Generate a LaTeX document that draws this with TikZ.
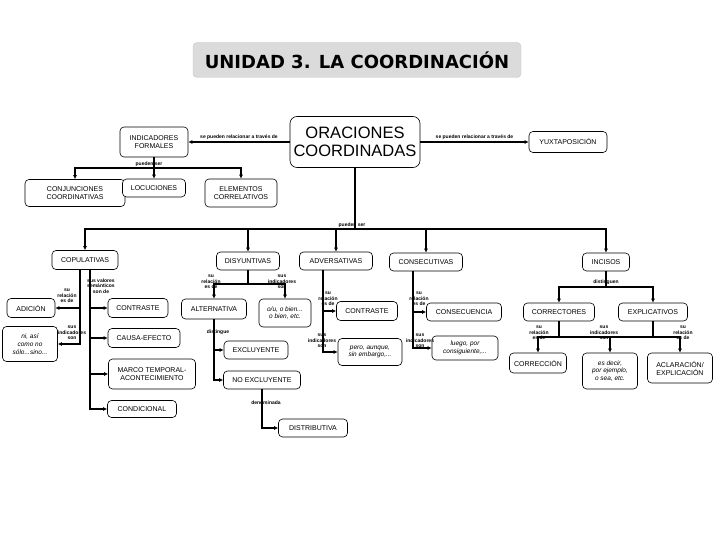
\documentclass[tikz,border=0pt]{standalone}
\usepackage{fontspec}
\setmainfont{Liberation Sans}
\newfontfamily\titlefont{DejaVu Sans}
\usetikzlibrary{arrows.meta, positioning}
\tikzset{
  caja/.style={draw, rounded corners=4pt, line width=0.6pt, align=center, inner sep=1pt, fill=white, font=\fontsize{7}{8}\selectfont},
  ejemplo/.style={caja, font=\fontsize{6.5}{7.8}\selectfont\itshape},
  etiq/.style={font=\fontsize{5}{5.6}\selectfont\bfseries, align=center, inner sep=0.3pt},
  arr/.style={-{Latex[length=4pt,width=4pt]}, line width=1.5pt},
  linea/.style={line width=1.5pt},
}

\begin{document}
\begin{tikzpicture}[x=1pt, y=-1pt]
    \useasboundingbox (0,0) rectangle (720,540);

    % título
    \node[fill=black!14, draw=black!22, rounded corners=4pt, minimum width=328pt, minimum height=35pt,
          font=\titlefont\bfseries\fontsize{18}{20}\selectfont] (titulo) at (357,60) {UNIDAD 3. LA COORDINACIÓN};

    % nivel superior
    \node[caja, rounded corners=7pt, minimum width=130pt, minimum height=51pt, font=\fontsize{16.5}{18}\selectfont] (oracio) at (355,142) {ORACIONES\\COORDINADAS};
    \node[caja, minimum width=68pt, minimum height=30pt] (indic) at (154,142) {INDICADORES\\FORMALES};
    \node[caja, minimum width=78pt, minimum height=21pt] (yuxta) at (568,142) {YUXTAPOSICIÓN};

    \draw[arr] (oracio) -- node[etiq, above=1pt] (l1) {se pueden relacionar a través de} (indic);
    \draw[arr] (oracio) -- node[etiq, above=1pt] (l2) {se pueden relacionar a través de} (yuxta);

    % indicadores formales
    \node[caja, minimum width=100pt, minimum height=27pt] (conj) at (75,193) {CONJUNCIONES\\COORDINATIVAS};
    \node[caja, minimum width=63pt, minimum height=18pt] (locu) at (154,188) {LOCUCIONES};
    \node[caja, minimum width=72pt, minimum height=28pt] (correl) at (241,193) {ELEMENTOS\\CORRELATIVOS};

    \coordinate (b1) at (154,168);
    \draw[linea] (indic) -- (b1);
    \node[etiq] (l3) at (149,164) {pueden ser};
    \draw[arr] (b1) -| (conj);
    \draw[arr] (b1) -- (locu);
    \draw[arr] (b1) -| (correl);

    % clases de oraciones
    \node[caja, minimum width=66pt, minimum height=19pt] (copul) at (85,260) {COPULATIVAS};
    \node[caja, minimum width=63pt, minimum height=18pt] (disy) at (248,261) {DISYUNTIVAS};
    \node[caja, minimum width=73pt, minimum height=18pt] (adver) at (336,261) {ADVERSATIVAS};
    \node[caja, minimum width=73pt, minimum height=18pt] (conse) at (426,262) {CONSECUTIVAS};
    \node[caja, minimum width=47pt, minimum height=18pt] (incis) at (606,262) {INCISOS};

    \coordinate (b2) at (355,229);
    \draw[linea] (oracio) -- (b2);
    \node[etiq] (l4) at (352,225) {pueden ser};
    \foreach \n in {copul, disy, adver, conse, incis}
        \draw[arr] (b2) -| (\n);

    % copulativas
    \node[caja, minimum width=48pt, minimum height=19pt] (adic) at (31,308) {ADICIÓN};
    \node[ejemplo, minimum width=55pt, minimum height=35pt] (nisi) at (30,344) {ni, así\\como no\\sólo...sino...};
    \node[caja, minimum width=60pt, minimum height=19pt] (contA) at (138,308) {CONTRASTE};
    \node[caja, minimum width=72pt, minimum height=19pt] (causa) at (144,338) {CAUSA-EFECTO};
    \node[caja, minimum width=87pt, minimum height=30pt] (marco) at (152,374) {MARCO TEMPORAL-\\ACONTECIMIENTO};
    \node[caja, minimum width=69pt, minimum height=17pt] (condi) at (142,409) {CONDICIONAL};

    \draw[arr] ([xshift=-5pt]copul.south) |- (adic);
    \draw[arr] ([xshift=-5pt]copul.south) |- (nisi);
    \foreach \n in {contA, causa, marco, condi}
        \draw[arr] ([xshift=5pt]copul.south) |- (\n);
    \node[etiq] (l5) at (67,296) {su\\relación\\es de};
    \node[etiq] (l6) at (72,333) {sus\\indicadores\\son};
    \node[etiq] (l7) at (101,286) {sus valores\\semánticos\\son de};

    % disyuntivas
    \node[caja, minimum width=65pt, minimum height=20pt] (alter) at (214,309) {ALTERNATIVA};
    \node[ejemplo, minimum width=52pt, minimum height=28pt] (obien) at (285,313) {o/u, o bien...\\o bien, etc.};
    \node[caja, minimum width=64pt, minimum height=18pt] (exclu) at (256,350) {EXCLUYENTE};
    \node[caja, minimum width=77pt, minimum height=18pt] (noexc) at (262,380) {NO EXCLUYENTE};
    \node[caja, minimum width=69pt, minimum height=18pt] (distr) at (313,428) {DISTRIBUTIVA};

    \coordinate (b3) at (248,284);
    \draw[linea] (disy) -- (b3);
    \draw[arr] (b3) -| (alter);
    \draw[arr] (b3) -| (obien);
    \node[etiq] (l8) at (211,282) {su\\relación\\es de};
    \node[etiq] (l9) at (282,282) {sus\\indicadores\\son};
    \draw[arr] (alter.south) |- (exclu);
    \draw[arr] (alter.south) |- (noexc);
    \node[etiq] (l10) at (218,332) {distingue};
    \draw[arr] (noexc.south) |- (distr);
    \node[etiq] (l11) at (266,403) {denominada};

    % adversativas
    \node[caja, minimum width=61pt, minimum height=19pt] (contB) at (367,311) {CONTRASTE};
    \node[ejemplo, minimum width=64pt, minimum height=27pt] (pero) at (370,352) {pero, aunque,\\sin embargo,...};
    \draw[arr] ([xshift=-13pt]adver.south) |- (contB);
    \draw[arr] ([xshift=-13pt]adver.south) |- (pero);
    \node[etiq] (l12) at (328,299) {su\\relación\\es de};
    \node[etiq] (l13) at (322,341) {sus\\indicadores\\son};

    % consecutivas
    \node[caja, minimum width=75pt, minimum height=18pt] (consec) at (464,312) {CONSECUENCIA};
    \node[ejemplo, minimum width=66pt, minimum height=24pt] (luego) at (465,348) {luego, por\\consiguiente,...};
    \draw[arr] ([xshift=-13pt]conse.south) |- (consec);
    \draw[arr] ([xshift=-13pt]conse.south) |- (luego);
    \node[etiq] (l14) at (419,299) {su\\relación\\es de};
    \node[etiq] (l15) at (420,341) {sus\\indicadores\\son};

    % incisos
    \node[caja, minimum width=71pt, minimum height=18pt] (correc) at (559,312) {CORRECTORES};
    \node[caja, minimum width=69pt, minimum height=18pt] (expli) at (653,312) {EXPLICATIVOS};
    \coordinate (b4) at (606,287);
    \draw[linea] (incis) -- (b4);
    \node[etiq] (l16) at (606,282) {distinguen};
    \draw[arr] (b4) -| (correc);
    \draw[arr] (b4) -| (expli);

    \node[caja, minimum width=57pt, minimum height=20pt] (correcc) at (538,363) {CORRECCIÓN};
    \node[ejemplo, minimum width=55pt, minimum height=36pt] (esdec) at (610,371) {es decir,\\por ejemplo,\\o sea, etc.};
    \node[caja, minimum width=65pt, minimum height=30pt] (aclar) at (680,368) {ACLARACIÓN/\\EXPLICACIÓN};
    \coordinate (b5) at (610,337);
    \draw[linea] (correc) |- (b5);
    \draw[linea] (expli) |- (b5);
    \draw[arr] (b5) -| (correcc);
    \draw[arr] (b5) -- (esdec);
    \draw[arr] (b5) -| (aclar);
    \node[etiq] (l17) at (539,333) {su\\relación\\es de};
    \node[etiq] (l18) at (604,333) {sus\\indicadores\\son};
    \node[etiq] (l19) at (683,333) {su\\relación\\es de};
\end{tikzpicture}
\end{document}
